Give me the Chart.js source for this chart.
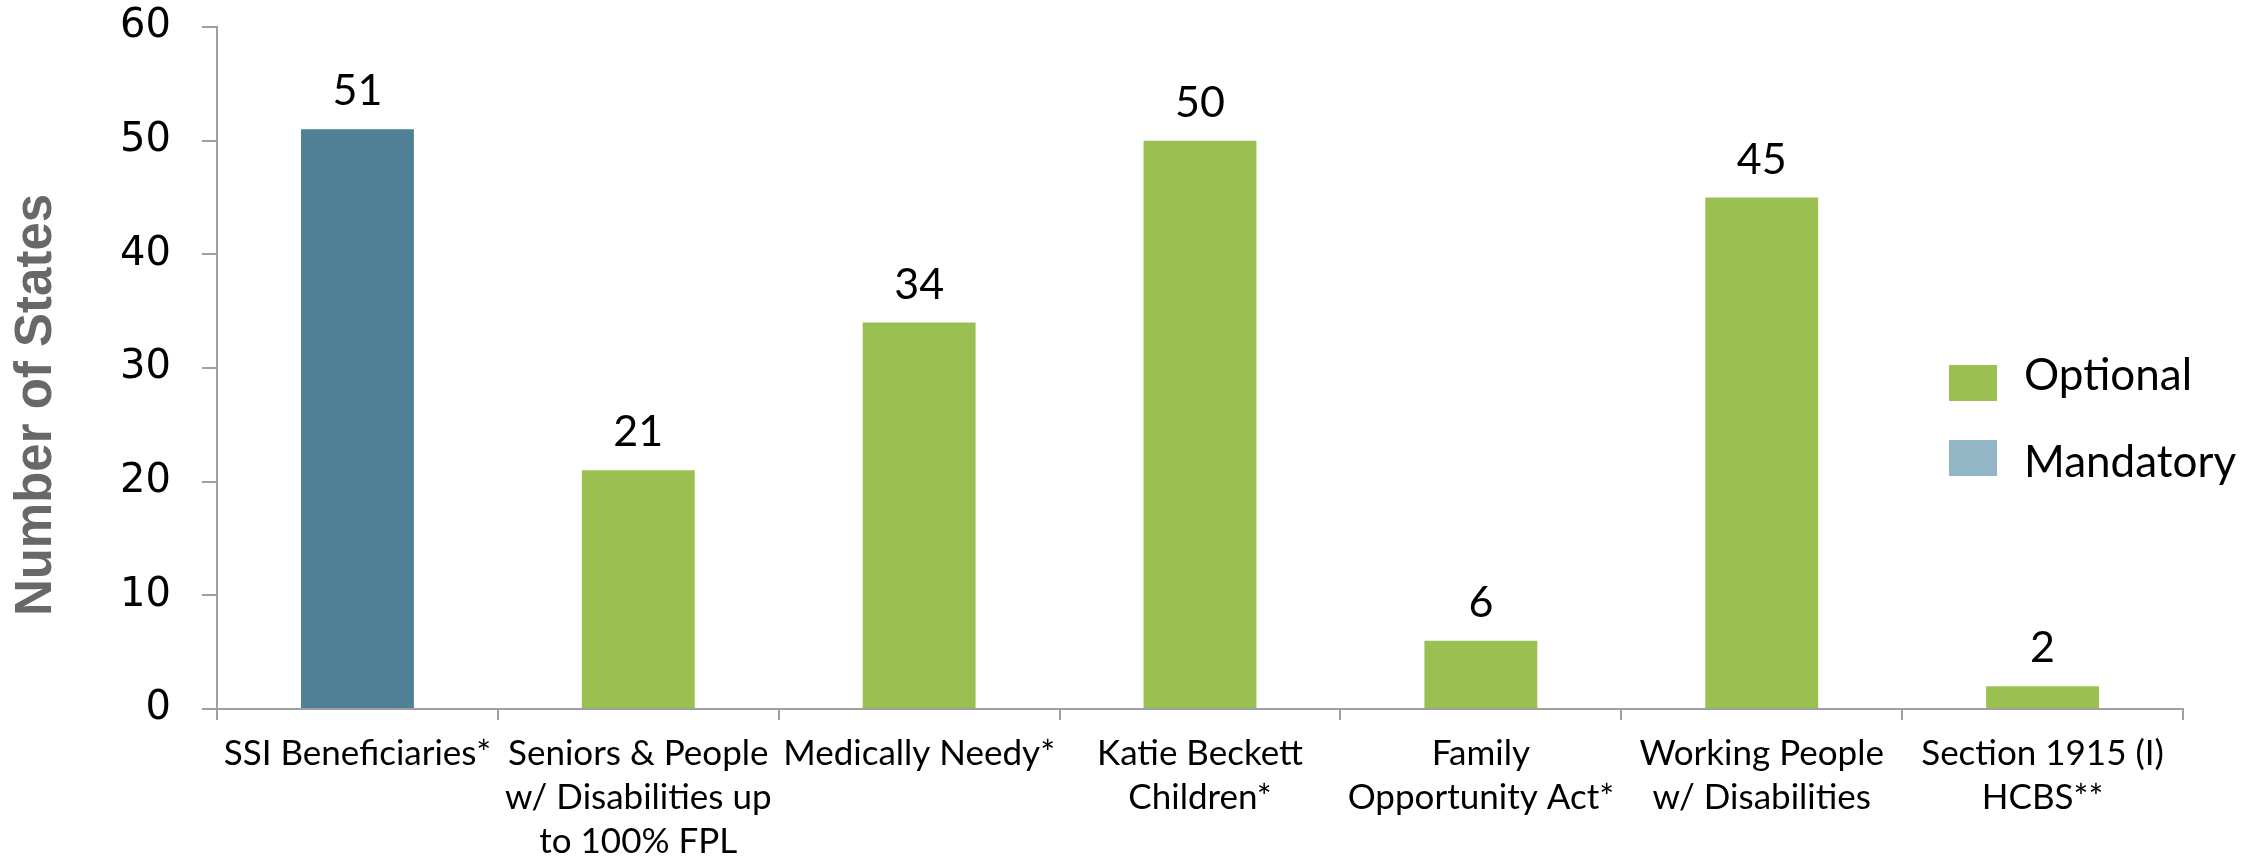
<!DOCTYPE html>
<html><head><meta charset="utf-8">
<script src="https://cdn.jsdelivr.net/npm/chart.js@4.4.0/dist/chart.umd.min.js"></script>
<style>html,body{margin:0;padding:0;background:#fff;} #wrap{width:2262px;height:862px;}</style>
</head><body><div id="wrap"><canvas id="c" width="2262" height="862"></canvas></div>
<script>
// ---- data ----
const categories = [
  ["SSI Beneficiaries*"],
  ["Seniors & People", "w/ Disabilities up", "to 100% FPL"],
  ["Medically Needy*"],
  ["Katie Beckett", "Children*"],
  ["Family", "Opportunity Act*"],
  ["Working People", "w/ Disabilities"],
  ["Section 1915 (I)", "HCBS**"]
];
const values = [51, 21, 34, 50, 6, 45, 2];
const groups = ["Mandatory", "Optional", "Optional", "Optional", "Optional", "Optional", "Optional"];
const legendNames = ["Optional", "Mandatory"];
const yTicks = [0, 10, 20, 30, 40, 50, 60];
const yTitle = "Number of States";

// ---- styles ----
const barColors = { Mandatory: "#4F8196", Optional: "#9BC052" };
const legendColors = { Optional: "#9BC052", Mandatory: "#93B6C6" };
const axisColor = "#a0a0a0";

const valueLabels = {
  id: "valueLabels",
  afterDatasetsDraw(chart) {
    const ctx = chart.ctx;
    const meta = chart.getDatasetMeta(0);
    ctx.save();
    ctx.font = "43px Lato";
    ctx.fillStyle = "#000";
    ctx.textAlign = "center";
    ctx.textBaseline = "alphabetic";
    meta.data.forEach((bar, i) => {
      ctx.fillText(String(values[i]), bar.x, bar.y - 24);
    });
    ctx.restore();
  }
};

const sideDecor = {
  id: "sideDecor",
  afterDraw(chart) {
    const ctx = chart.ctx;
    ctx.save();
    // y axis title
    ctx.translate(51, 405);
    ctx.rotate(-Math.PI / 2);
    ctx.font = "bold 51px 'Liberation Sans'";
    ctx.fillStyle = "#686868";
    ctx.textAlign = "center";
    ctx.textBaseline = "alphabetic";
    ctx.fillText(yTitle, 0, 0);
    ctx.restore();
    // legend
    ctx.save();
    const baselines = [390, 477];
    const boxTops = [365, 440];
    legendNames.forEach((name, i) => {
      ctx.fillStyle = legendColors[name];
      ctx.fillRect(1949, boxTops[i], 48, 36);
      ctx.fillStyle = "#000";
      ctx.font = "44px Lato";
      ctx.textAlign = "left";
      ctx.textBaseline = "alphabetic";
      ctx.fillText(name, 2024, baselines[i]);
    });
    ctx.restore();
  }
};

new Chart(document.getElementById("c"), {
  type: "bar",
  data: {
    labels: categories,
    datasets: [{
      label: "Number of States",
      data: values,
      backgroundColor: groups.map(g => barColors[g]),
      borderWidth: 0,
      categoryPercentage: 1.0,
      barPercentage: 0.402
    }]
  },
  options: {
    responsive: false,
    animation: false,
    devicePixelRatio: 1,
    layout: { padding: { top: 27, right: 79, left: 0, bottom: 0 } },
    plugins: { legend: { display: false }, tooltip: { enabled: false } },
    scales: {
      x: {
        grid: { display: true, offset: true, drawOnChartArea: false, drawTicks: true, tickLength: 11, color: axisColor, lineWidth: 2 },
        border: { display: true, color: axisColor, width: 2 },
        ticks: { color: "#000", font: { family: "Lato", size: 35, lineHeight: 1.25 }, padding: 12, maxRotation: 0, minRotation: 0, autoSkip: false },
        afterFit(s) { s.height = 153; }
      },
      y: {
        min: 0, max: 60,
        afterBuildTicks(s) { s.ticks = yTicks.map(v => ({ value: v })); },
        grid: { display: true, drawOnChartArea: false, drawTicks: true, tickLength: 15, color: axisColor, lineWidth: 2 },
        border: { display: true, color: axisColor, width: 2 },
        ticks: { color: "#000", font: { family: "'DejaVu Sans'", size: 40 }, padding: 31 },
        afterFit(s) { s.width = 217; s.paddingTop = 0; s.paddingBottom = 0; }
      }
    }
  },
  plugins: [valueLabels, sideDecor]
});
</script>
</body></html>
